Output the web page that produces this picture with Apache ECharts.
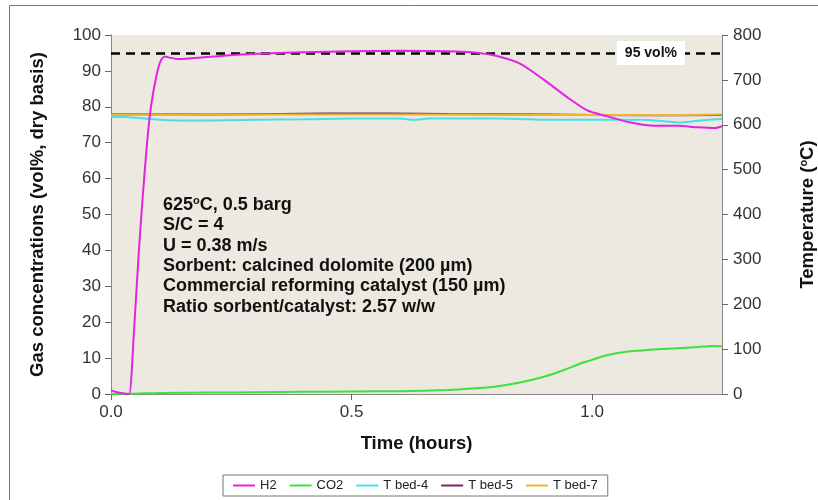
<!DOCTYPE html>
<html>
<head>
<meta charset="utf-8">
<script src="https://cdn.jsdelivr.net/npm/echarts@6/dist/echarts.min.js"></script>
<style>
  html, body { margin: 0; padding: 0; background: #fff; }
  #chart { width: 818px; height: 500px; }
</style>
</head>
<body>
<div id="chart"></div>
<script>
// H2 / CO2 concentrations (vol%, left axis) and bed temperatures (°C, right axis) vs time (h)
var h2 = [[0, 1.0], [0.015, 0.4], [0.033, 0], [0.038, 0], [0.048, 18], [0.058, 40], [0.066, 55],
  [0.075, 70], [0.083, 80], [0.095, 89], [0.104, 93], [0.112, 94], [0.125, 93.6], [0.14, 93.3],
  [0.2, 93.9], [0.29, 94.7], [0.4, 95.2], [0.5, 95.5], [0.6, 95.6], [0.7, 95.5], [0.75, 95.2],
  [0.8, 94.2], [0.85, 92], [0.9, 87.5], [0.95, 82.5], [0.99, 79], [1.03, 77.4], [1.08, 75.6],
  [1.12, 74.8], [1.18, 74.7], [1.22, 74.3], [1.255, 74.1], [1.27, 74.6]];
var co2 = [[0, 0], [0.05, 0.1], [0.1, 0.3], [0.2, 0.4], [0.3, 0.5], [0.4, 0.6], [0.5, 0.7],
  [0.6, 0.8], [0.7, 1.1], [0.75, 1.5], [0.8, 2.1], [0.85, 3.2], [0.9, 4.8], [0.94, 6.6],
  [0.98, 8.7], [1.0, 9.5], [1.03, 10.8], [1.07, 11.8], [1.12, 12.3], [1.17, 12.7],
  [1.22, 13.1], [1.25, 13.4], [1.27, 13.3]];
var tbed4 = [[0, 618], [0.03, 617], [0.08, 613], [0.12, 610], [0.2, 609.5], [0.3, 611],
  [0.4, 612], [0.5, 614], [0.6, 614], [0.63, 611], [0.66, 614], [0.75, 614], [0.85, 613],
  [0.9, 611], [1.0, 611], [1.1, 611], [1.15, 608], [1.18, 605], [1.22, 609], [1.27, 613]];
var tbed5 = [[0, 623], [0.2, 623], [0.35, 624], [0.45, 625], [0.58, 625], [0.7, 624],
  [0.9, 623], [1.1, 621], [1.27, 622]];
var tbed7 = [[0, 622], [0.15, 622], [0.2, 623], [0.5, 623], [0.8, 622.5], [1.0, 621.5],
  [1.2, 622], [1.27, 623]];
var seriesNames = ["H2", "CO2", "T bed-4", "T bed-5", "T bed-7"];
var colors = ["#E024E0", "#3FE03F", "#45E0E8", "#70286E", "#EDB52E"];
var targetH2 = 95;
var notes = [
  "625{sup|o}C, 0.5 barg",
  "S/C = 4",
  "U = 0.38 m/s",
  "Sorbent: calcined dolomite (200 µm)",
  "Commercial reforming catalyst (150 µm)",
  "Ratio sorbent/catalyst: 2.57 w/w"
];

var FONT = "Liberation Sans, Arial, sans-serif";
var chart = echarts.init(document.getElementById("chart"), null, { renderer: "canvas" });

function lineSeries(name, data, color, axis, z) {
  return {
    name: name, type: "line", data: data, yAxisIndex: axis, showSymbol: false,
    smooth: 0.25, z: z,
    lineStyle: { color: color, width: 2 }, itemStyle: { color: color }
  };
}

var series = [
  lineSeries("H2", h2, colors[0], 0, 6),
  lineSeries("CO2", co2, colors[1], 0, 5),
  lineSeries("T bed-4", tbed4, colors[2], 1, 2),
  lineSeries("T bed-5", tbed5, colors[3], 1, 3),
  lineSeries("T bed-7", tbed7, colors[4], 1, 4)
];
series[0].markLine = {
  silent: true, symbol: ["none", "none"],
  lineStyle: { color: "#000", type: [9, 6], width: 2.5 },
  label: {
    show: true, position: "insideEnd", distance: [37, 0], formatter: "95 vol%",
    color: "#111", fontWeight: "bold", fontSize: 14, fontFamily: FONT,
    backgroundColor: "#fff", padding: [5, 8]
  },
  data: [{ yAxis: targetH2 }]
};

var axisLabel = { color: "#333", fontSize: 17, fontFamily: FONT };
var axisLine = { show: true, lineStyle: { color: "#888", width: 1 } };
var nameStyle = { color: "#111", fontSize: 18.5, fontWeight: "bold", fontFamily: FONT };

chart.setOption({
  animation: false,
  color: colors,
  grid: { left: 111, right: 96, top: 35, bottom: 106, show: true, containLabel: false,
    outerBoundsMode: "none", backgroundColor: "#ECE9E1", borderWidth: 0 },
  legend: {
    data: seriesNames, top: 475, left: 223, icon: "rect", itemWidth: 22, itemHeight: 2,
    itemGap: 13, borderColor: "#777", borderWidth: 1, padding: [4, 10],
    textStyle: { color: "#222", fontSize: 13, fontFamily: FONT }
  },
  xAxis: {
    type: "value", min: 0, max: 1.27, interval: 0.5,
    name: "Time (hours)", nameLocation: "middle", nameGap: 40, nameTextStyle: nameStyle,
    axisLine: axisLine, axisTick: { show: true, length: 6, lineStyle: { color: "#666" } },
    axisLabel: Object.assign({ showMaxLabel: false, margin: 10,
      formatter: function (v) { return v.toFixed(1); } }, axisLabel),
    splitLine: { show: false }
  },
  yAxis: [{
    type: "value", min: 0, max: 100, interval: 10,
    name: "Gas concentrations (vol%, dry basis)", nameLocation: "middle", nameGap: 64,
    nameRotate: 90, nameTextStyle: nameStyle,
    axisLine: axisLine, axisTick: { show: true, length: 6, lineStyle: { color: "#666" } },
    axisLabel: Object.assign({ margin: 10 }, axisLabel),
    splitLine: { show: false }
  }, {
    type: "value", min: 0, max: 800, interval: 100, position: "right",
    name: "Temperature ({sup|o}C)", nameLocation: "middle", nameGap: 76, nameRotate: 90,
    nameTextStyle: Object.assign({ rich: { sup: { fontSize: 11, fontWeight: "bold",
      fontFamily: FONT, color: "#111", verticalAlign: "top" } } }, nameStyle),
    axisLine: axisLine, axisTick: { show: true, length: 6, lineStyle: { color: "#666" } },
    axisLabel: Object.assign({ margin: 11 }, axisLabel),
    splitLine: { show: false }
  }],
  graphic: [{
    type: "rect", left: 7, top: 3, silent: true,
    shape: { width: 830, height: 520 },
    style: { fill: "none", stroke: "#777", lineWidth: 1 }
  }, {
    type: "text", left: 163, top: 195, z: 10,
    style: {
      text: notes.join("\n"), fill: "#111", font: "bold 18px " + FONT, lineHeight: 20.3,
      rich: { sup: { fontSize: 11, fontWeight: "bold", fontFamily: FONT, fill: "#111",
        verticalAlign: "top", lineHeight: 20.3 } }
    }
  }],
  series: series
});
</script>
</body>
</html>
